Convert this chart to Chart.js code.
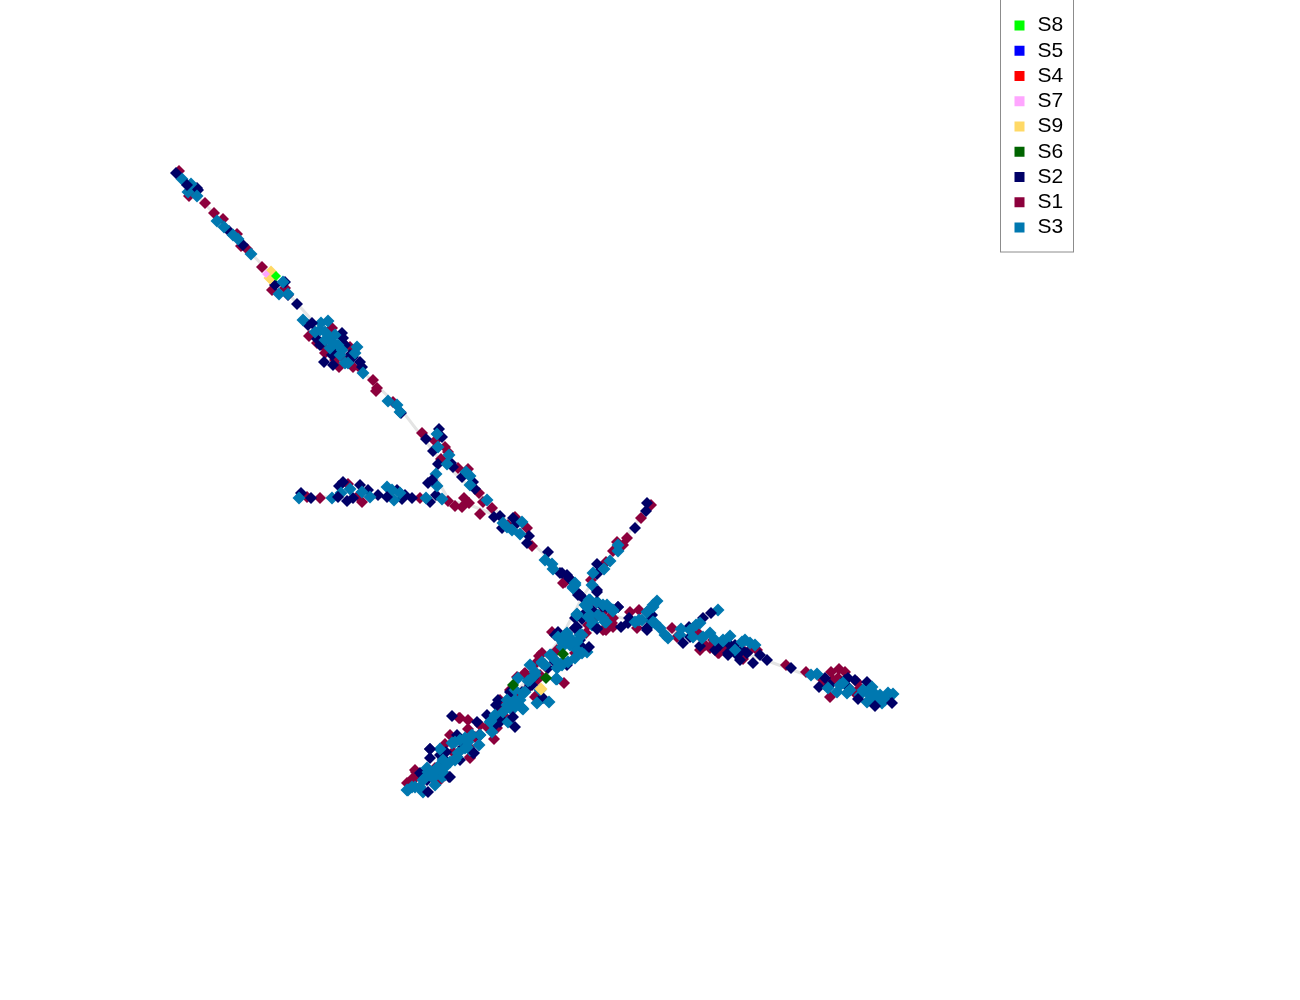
<!DOCTYPE html>
<html>
<head>
<meta charset="utf-8">
<title>Trajectory</title>
<style>
  html, body { margin: 0; padding: 0; background: #fff; }
  canvas { display: block; }
</style>
<script src="https://cdn.jsdelivr.net/npm/chart.js@4/dist/chart.umd.min.js"></script>
</head>
<body>
<canvas id="traj" width="1300" height="1000"></canvas>
<script>
const s8 = [[276,276]];
const s5 = [];
const s4 = [];
const s7 = [[266,274]];
const s9 = [[271,272],[270,278],[541,689]];
const s6 = [[563,654],[513,685],[546,678]];

const s2 = [
  [198,190],[197,188],[229,231],[243,245],[275,285],[285,282],[288,295],[297,304],
  [308,325],[317,339],[328,338],[342,333],[343,338],[332,355],[324,362],[333,365],[353,357],[360,362],[362,367],[337,350],
  [320,345],[335,345],[345,345],[350,355],
  [401,413],[426,439],[439,429],[442,437],[433,451],[438,464],[451,463],[453,467],[462,477],[473,482],[475,489],
  [428,483],[436,495],[430,502],
  [301,493],[343,482],[339,486],[353,498],[360,485],[368,490],[378,495],[397,490],[402,499],[405,495],
  [494,517],[500,516],[513,518],[517,523],[529,536],[527,543],[502,528],
  [548,552],[560,573],[567,575],[570,579],[562,573],[569,578],[578,593],[582,597],
  [647,503],[646,511],[635,528],[597,564],[597,574],
  [592,610],[618,607],[603,607],[582,619],[575,628],
  [629,618],[647,612],[650,620],[647,630],[689,627],[703,618],[700,646],[728,653],[735,645],
  [730,645],[737,655],[747,653],[753,663],[791,668],[690,637],[720,645],[742,650],[760,655],[715,650],[740,660],
  [819,687],[825,678],[848,678],[848,687],[867,682],[830,685],[845,680],[855,680],[870,695],[890,695],
  [558,632],[575,628],[582,647],[578,595],[597,628],[592,610],
  [555,662],[533,678],[532,685],[510,692],[543,698],[498,700],[496,705],[500,718],[487,715],
  [477,722],[480,735],[457,735],[463,747],[473,753],[446,752],[430,749],[430,758],[449,777],[427,780],[420,773],
  [500,722],[497,705],[479,735],[440,755],[422,775],[443,758],[440,765],[460,760],[495,725],
  [555,635],[577,627],[580,640],[555,662],[548,668],[533,677],[512,692],[542,698],[530,685],[522,692],[567,665],
  [580,595],[575,618],[583,615],[593,612],[618,607],[647,628],[652,615],[628,623],[597,590],[607,607]
];

// navy marks that sit on top of the blue ones
const s2Top = [
  [176,173],[187,185],[312,323],[432,480],[311,498],[338,497],[347,501],[387,497],[412,498],
  [452,716],[474,753],[428,792],[513,717],[515,727],[597,629],[621,627],[589,647],[597,592],
  [711,613],[683,643],[728,655],[767,660],[858,699],[875,706],[892,703],[450,777],[430,749]
];

const s1 = [
  [179,171],[189,196],[190,192],[205,203],[214,213],[223,219],[237,234],[241,246],[247,249],[262,267],[272,290],[285,288],
  [332,328],[309,336],[317,343],[350,347],[325,353],[343,358],[339,367],[353,367],[360,368],[373,380],[377,388],[376,391],[393,402],
  [322,345],[345,345],[335,360],
  [422,433],[435,441],[445,447],[448,452],[441,459],[458,468],[468,469],[479,493],[483,502],[492,508],
  [420,498],[448,501],[455,506],[462,507],[464,498],[469,503],[480,514],
  [307,497],[320,498],[348,484],[362,502],[358,496],
  [515,517],[527,528],[532,546],[508,525],[565,582],
  [651,505],[641,518],[627,538],[617,542],[623,545],[613,551],[606,562],[591,580],
  [595,618],[588,625],[606,630],[610,617],[613,627],
  [630,612],[639,610],[672,628],[677,637],[694,628],[710,647],[713,640],[719,653],
  [693,628],[710,648],[718,653],[743,659],[757,650],[786,665],[806,672],[697,632],[705,645],[745,652],[725,650],[700,650],[750,650],
  [823,680],[831,672],[839,669],[833,680],[830,697],[857,682],[855,693],[885,699],[845,672],[825,685],[838,678],[860,688],
  [552,632],[586,633],[557,650],[605,629],
  [536,663],[539,656],[547,668],[524,674],[564,683],[537,680],[517,697],[535,697],[501,710],
  [497,728],[487,727],[494,739],[459,718],[468,720],[468,729],[475,737],[469,747],[445,744],[470,758],
  [416,772],[413,778],[407,783],[440,780],[460,718],[453,752],[415,770],[415,778],[435,768],[470,757],
  [542,653],[540,675],[525,673],[515,695],[537,695],[528,688],[500,700],[505,717],[575,653],[517,677],
  [603,630],[612,623],[613,618],[602,613],[563,583],[637,628],[510,690],[480,725],[450,735]
];

const s3 = [
  [182,179],[191,184],[188,192],[197,196],[217,221],[224,227],[233,235],[238,239],[251,254],[283,282],[279,294],[288,294],
  [303,320],[328,321],[321,323],[315,332],[325,332],[335,335],[333,343],[330,348],[342,350],[357,347],[355,353],[345,363],[348,363],[363,373],
  [320,330],[330,338],[338,345],[325,340],[340,355],
  [388,401],[397,405],[400,412],
  [437,434],[438,447],[449,455],[447,464],[466,472],[470,476],[470,485],[487,500],
  [436,474],[437,486],[442,499],[426,498],
  [299,498],[332,498],[341,493],[350,489],[362,492],[370,497],[387,487],[392,490],[394,500],[400,493],
  [503,523],[522,522],[512,530],[520,534],[507,527],
  [545,560],[552,564],[553,569],[575,583],[573,587],[575,585],[573,588],
  [618,545],[618,551],[610,561],[604,569],[593,573],[592,585],
  [589,600],[597,602],[607,605],[613,611],[577,615],[587,607],[590,615],[606,622],[598,615],[603,618],
  [635,622],[639,620],[653,605],[657,601],[655,623],[660,628],[668,638],[681,629],[700,623],[718,610],[693,637],[702,638],[710,633],[723,641],
  [703,637],[723,640],[742,642],[750,643],[696,625],[730,636],[745,640],[755,645],[715,640],[735,650],[690,630],[680,635],
  [811,675],[817,674],[828,688],[837,692],[843,683],[847,693],[863,690],[873,692],[877,698],[867,702],[882,703],[888,693],[893,694],[872,687],
  [870,695],[880,695],[875,700],[870,700],[885,700],[860,695],[850,690],[840,685],
  [563,640],[558,637],[570,640],[567,633],[580,635],[577,650],[570,645],[582,653],
  [585,605],[590,600],[577,615],[606,622],[613,610],
  [530,665],[551,655],[563,662],[557,668],[542,662],[535,672],[518,678],[556,679],[528,681],[523,693],
  [537,703],[549,702],[510,705],[515,703],[523,709],[508,722],[503,712],[491,721],[492,732],
  [479,745],[455,742],[465,738],[458,753],[440,749],[443,760],[455,760],[438,767],[433,775],[428,772],
  [415,787],[407,790],[422,790],[423,780],[442,777],[412,787],
  [490,722],[472,735],[460,740],[452,743],[457,757],[450,762],[437,768],[430,775],[425,778],[427,768],[420,787],[408,790],[423,792],[433,778],[442,772],[445,767],[465,748],[468,742],[507,705],[515,707],
  [567,640],[562,647],[572,643],[550,655],[542,663],[555,660],[562,665],[557,679],[535,675],[525,692],[515,700],[507,700],[522,708],[510,708],[587,652],[582,635],[592,625],[575,658],[568,662],
  [577,614],[587,605],[597,602],[588,617],[593,623],[603,605],[612,610],[605,622],[642,620],[647,612],[653,607],[653,622],[665,635],[565,635],[570,638],[577,642],[563,643],
  [480,735],[470,750],[445,775],[435,785],[495,715],[515,690],[530,680],[540,690],[545,665],[520,700]
];

// light grey tree under the points
const trunk = [[175,172],[265,268],[330,340],[400,408],[440,460],[490,505],[545,555],[583,596]];
const armLeft = [[300,497],[420,497],[445,500],[470,505],[495,515]];
const armFork = [[437,478],[442,488],[450,502]];
const armUp = [[583,596],[617,548],[650,505]];
const armDown = [[583,596],[560,640],[510,700],[420,790]];
const armRight = [[590,610],[650,625],[700,640],[765,660],[820,680],[893,697]];

const pts = a => a.map(p => ({ x: p[0], y: p[1] }));

function pointSet(label, arr, color, radius, order) {
  return {
    label: label, data: pts(arr), order: order,
    backgroundColor: color, borderColor: color, borderWidth: 0,
    pointStyle: 'rectRot', pointRadius: radius, pointHoverRadius: radius,
    showLine: false
  };
}

function treeSet(arr) {
  return {
    label: 'tree', data: pts(arr), order: 20,
    borderColor: '#e4e4e4', borderWidth: 3, backgroundColor: '#e4e4e4',
    pointRadius: 0, showLine: true, tension: 0
  };
}

const legendFrame = {
  id: 'legendFrame',
  afterLayout(chart) {
    const lg = chart.legend;
    lg.left = 1007.75; lg.right = 1073; lg.top = 10.75; lg.bottom = 300;
  },
  afterDraw(chart) {
    const c = chart.ctx;
    c.save();
    c.strokeStyle = '#8c8c8c';
    c.lineWidth = 1;
    c.strokeRect(1000.5, -2, 73, 254);
    c.restore();
  }
};

new Chart(document.getElementById('traj').getContext('2d'), {
  type: 'scatter',
  data: {
    datasets: [
      pointSet('S8', s8, '#00ff00', 5, 0),
      pointSet('S5', s5, '#0000ff', 6, 1),
      pointSet('S4', s4, '#ff0000', 6, 2),
      pointSet('S7', s7, '#ffa6ff', 4, 3),
      pointSet('S9', s9, '#ffd966', 6.5, 4),
      pointSet('S6', s6, '#006400', 6, 5),
      pointSet('S2', s2, '#000066', 6, 9),
      pointSet('S1', s1, '#8c003c', 6, 10),
      pointSet('S3', s3, '#0078b0', 6.5, 8),
      pointSet('S2 top', s2Top, '#000066', 6, 7),
      treeSet(trunk), treeSet(armLeft), treeSet(armFork),
      treeSet(armUp), treeSet(armDown), treeSet(armRight)
    ]
  },
  options: {
    responsive: false,
    animation: false,
    events: [],
    layout: { padding: 0, autoPadding: false },
    scales: {
      x: { type: 'linear', min: 0, max: 1300, display: false },
      y: { type: 'linear', min: 0, max: 1000, reverse: true, display: false }
    },
    plugins: {
      tooltip: { enabled: false },
      legend: {
        position: 'chartArea',
        align: 'start',
        labels: {
          usePointStyle: true,
          pointStyle: 'rect',
          boxWidth: 15,
          boxHeight: 10,
          padding: 4.25,
          color: '#000',
          font: { family: '"Liberation Sans", Arial, sans-serif', size: 21 },
          filter: item => item.datasetIndex < 9,
          sort: (a, b) => a.datasetIndex - b.datasetIndex
        }
      }
    }
  },
  plugins: [legendFrame]
});
</script>
</body>
</html>
